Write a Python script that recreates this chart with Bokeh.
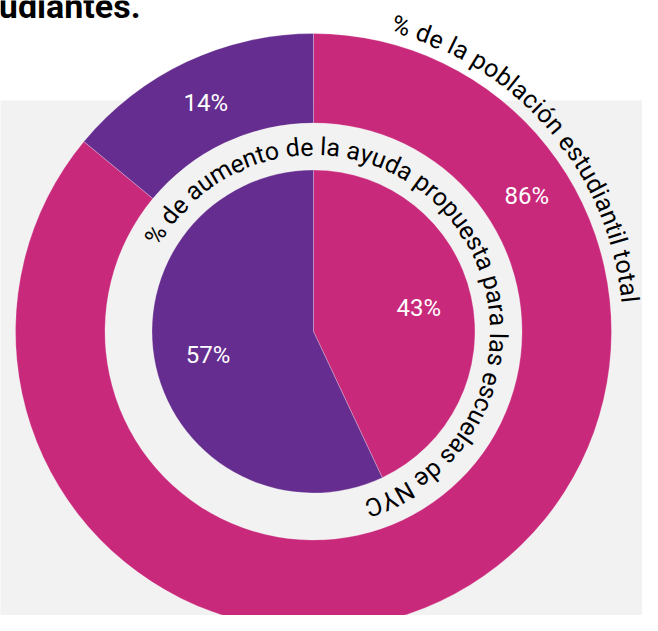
import math
import numpy as np
from bokeh.plotting import figure
from bokeh.core.properties import value
from bokeh.embed import file_html
from bokeh.resources import INLINE

# ---------------- data ----------------
outer_labels = ["86%", "14%"]
outer_values = [86, 14]
inner_labels = ["43%", "57%"]
inner_values = [43, 57]
outer_title = "% de la población estudiantil total"
inner_title = "% de aumento de la ayuda propuesta para las escuelas de NYC"
heading_tail = "estudiantes."

# ---------------- styles / layout ----------------
slice_colors = ["#C9297B", "#652D8F"]
band_color = "#F2F2F2"
FONT = "Roboto"
CX, CY = 313, 300            # centre of the rings (data units = pixels, y up)
R_OUT, R_OUT_IN, R_PIE = 298, 208.5, 161.5

# approximate Roboto advance widths (em)
W_EM = {" ": 0.248, "%": 0.733, "a": 0.544, "b": 0.561, "c": 0.523, "d": 0.564,
        "e": 0.530, "i": 0.242, "l": 0.242, "m": 0.875, "n": 0.552, "o": 0.570,
        "p": 0.561, "r": 0.338, "s": 0.516, "t": 0.327, "u": 0.551, "y": 0.474,
        "ó": 0.570, "N": 0.712, "Y": 0.615, "C": 0.651}

p = figure(width=642, height=615, x_range=(0, 642), y_range=(16, 631),
           output_backend="svg", toolbar_location=None, min_border=0)
p.axis.visible = False
p.grid.visible = False
p.outline_line_color = None
p.background_fill_color = "white"
p.border_fill_color = "white"

# grey band behind the chart
p.quad(left=[-10], right=[660], bottom=[0], top=[531], fill_color=band_color, line_color=None)

# heading fragment (cut off at the top, as in the source)
p.text(x=[140], y=[626], text=[heading_tail], text_align="right", text_baseline="middle",
       text_font=value(FONT), text_font_style="bold", text_font_size="34px", text_color="#000000")


def clockwise(values):
    v = np.array(values, dtype=float)
    cum = np.concatenate([[0], np.cumsum(v)]) / v.sum()
    ends = np.pi / 2 - 2 * np.pi * cum[:-1]
    starts = np.pi / 2 - 2 * np.pi * cum[1:]
    return starts, ends


# outer ring
o_s, o_e = clockwise(outer_values)
p.annular_wedge(x=CX, y=CY, inner_radius=R_OUT_IN, outer_radius=R_OUT,
                start_angle=o_s, end_angle=o_e, fill_color=slice_colors,
                line_color="white", line_width=0.5, line_alpha=0.5)

# inner pie
i_s, i_e = clockwise(inner_values)
p.wedge(x=CX, y=CY, radius=R_PIE, start_angle=i_s, end_angle=i_e,
        fill_color=slice_colors, line_color="white", line_width=0.5, line_alpha=0.5)

# labels
outer_label_deg = [32.5, None]      # None -> slice middle
o_mid = (o_s + o_e) / 2
o_ang = np.array([math.radians(d) if d is not None else m for d, m in zip(outer_label_deg, o_mid)])
p.text(x=CX + 253 * np.cos(o_ang), y=CY + 253 * np.sin(o_ang), text=outer_labels,
       text_align="center", text_baseline="middle", text_color="white",
       text_font=value(FONT), text_font_size="24px")

i_mid = (i_s + i_e) / 2
p.text(x=CX + 108 * np.cos(i_mid), y=CY + 108 * np.sin(i_mid), text=inner_labels,
       text_align="center", text_baseline="middle", text_color="white",
       text_font=value(FONT), text_font_size="24px")


def arc_text(s, r, start_deg, end_deg, size_px):
    widths = np.array([W_EM.get(c, 0.55) for c in s]) * size_px
    centres = np.cumsum(widths) - widths / 2
    span = centres[-1] - centres[0]
    total = math.radians(start_deg - end_deg)
    ang = math.radians(start_deg) - (centres - centres[0]) / span * total
    keep = [k for k, c in enumerate(s) if c != " "]
    ang = ang[keep]
    chars = [s[k] for k in keep]
    p.text(x=CX + r * np.cos(ang), y=CY + r * np.sin(ang), text=chars,
           angle=ang - np.pi / 2, text_align="center", text_baseline="middle",
           text_color="#000000", text_font=value(FONT), text_font_size=f"{size_px}px")


arc_text(outer_title, 318, 74.0, 5.8, 25)
arc_text(inner_title, 185, 148.5, -71.0, 25)

open("out.html", "w").write(file_html(p, INLINE))
